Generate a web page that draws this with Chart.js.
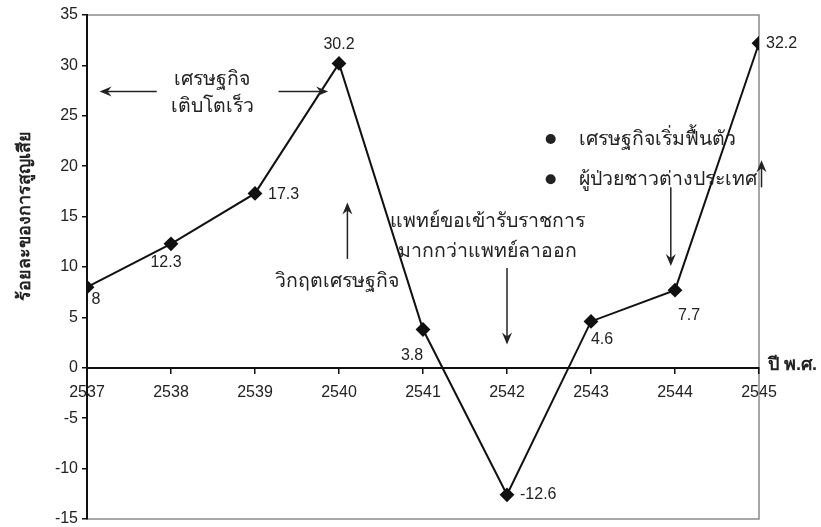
<!DOCTYPE html>
<html>
<head>
<meta charset="utf-8">
<script src="https://cdn.jsdelivr.net/npm/chart.js@4.4.0/dist/chart.umd.min.js"></script>
<style>
  html, body { margin: 0; padding: 0; background: #fff; }
  #wrap { width: 821px; height: 527px; }
</style>
</head>
<body>
<div id="wrap"><canvas id="lossChart"></canvas></div>
<script>
// data
var years = [2537, 2538, 2539, 2540, 2541, 2542, 2543, 2544, 2545];
var lossPercent = [8, 12.3, 17.3, 30.2, 3.8, -12.6, 4.6, 7.7, 32.2];
var yMin = -15, yMax = 35, yStep = 5;
var yTitle = "ร้อยละของการสูญเสีย";
var xTitle = "ปี พ.ศ.";

// where each value label sits relative to its point (px)
var labelOffsets = [[9, 12], [-5, 19], [30, 1], [0, -19], [-11, 26], [30, 0], [11, 18], [14, 25], [24, 0]];

// notes and arrows, placed in data units
var notes = [
  { text: "เศรษฐกิจ", x: 2538.49, y: 28.6 },
  { text: "เติบโตเร็ว", x: 2538.49, y: 25.9 },
  { text: "วิกฤตเศรษฐกิจ", x: 2539.98, y: 8.5 },
  { text: "แพทย์ขอเข้ารับราชการ", x: 2541.77, y: 14.5 },
  { text: "มากกว่าแพทย์ลาออก", x: 2541.77, y: 11.5 },
  { text: "เศรษฐกิจเริ่มฟื้นตัว", x: 2542.86, y: 22.6, left: true },
  { text: "ผู้ป่วยชาวต่างประเทศ", x: 2542.86, y: 18.7, left: true }
];
var bullets = [[2542.52, 22.7], [2542.52, 18.7]];
var arrows = [
  [2537.83, 27.4, 2537.15, 27.4],
  [2539.28, 27.4, 2539.87, 27.4],
  [2540.10, 10.8, 2540.10, 16.4],
  [2542.0, 9.9, 2542.0, 2.3],
  [2543.95, 17.9, 2543.95, 10.1],
  [2545.03, 17.9, 2545.03, 20.6]
];

var textFont = '"Liberation Sans", Arial, "Noto Sans", sans-serif';

function drawArrow(ctx, x1, y1, x2, y2) {
  var ang = Math.atan2(y2 - y1, x2 - x1);
  var len = 12, half = 5;
  ctx.beginPath();
  ctx.moveTo(x1, y1);
  ctx.lineTo(x2 - Math.cos(ang) * 6, y2 - Math.sin(ang) * 6);
  ctx.stroke();
  ctx.save();
  ctx.translate(x2, y2);
  ctx.rotate(ang);
  ctx.beginPath();
  ctx.moveTo(0, 0);
  ctx.lineTo(-len, -half);
  ctx.lineTo(-len + 4, 0);
  ctx.lineTo(-len, half);
  ctx.closePath();
  ctx.fill();
  ctx.restore();
}

var framePlugin = {
  id: "frame",
  beforeDraw: function (chart) {
    var a = chart.chartArea, ctx = chart.ctx;
    ctx.save();
    ctx.strokeStyle = "#8a8a8a";
    ctx.lineWidth = 1.5;
    ctx.strokeRect(a.left, a.top, a.right - a.left, a.bottom - a.top);
    ctx.restore();
  }
};

var notesPlugin = {
  id: "notes",
  afterDatasetsDraw: function (chart) {
    var ctx = chart.ctx, xs = chart.scales.x, ys = chart.scales.y;
    ctx.save();

    // value labels next to the points
    var meta = chart.getDatasetMeta(0);
    ctx.fillStyle = "#222";
    ctx.font = "16px " + textFont;
    ctx.textAlign = "center";
    ctx.textBaseline = "middle";
    meta.data.forEach(function (pt, i) {
      var off = labelOffsets[i];
      var txt = String(lossPercent[i]);
      var w = ctx.measureText(txt).width;
      var cx = pt.x + off[0];
      if (off[1] === 0 || off[1] === 1) cx = pt.x + off[0] - 17 + w / 2;
      ctx.fillText(txt, cx, pt.y + off[1]);
    });

    // notes
    ctx.font = "19.5px " + textFont;
    notes.forEach(function (n) {
      ctx.textAlign = n.left ? "left" : "center";
      ctx.fillText(n.text, xs.getPixelForValue(n.x), ys.getPixelForValue(n.y));
    });

    bullets.forEach(function (b) {
      ctx.beginPath();
      ctx.arc(xs.getPixelForValue(b[0]), ys.getPixelForValue(b[1]), 5, 0, Math.PI * 2);
      ctx.fill();
    });

    ctx.strokeStyle = "#222";
    ctx.lineWidth = 1.5;
    arrows.forEach(function (a) {
      drawArrow(ctx, xs.getPixelForValue(a[0]), ys.getPixelForValue(a[1]),
        xs.getPixelForValue(a[2]), ys.getPixelForValue(a[3]));
    });

    // axis titles
    ctx.font = "bold 18px " + textFont;
    ctx.textAlign = "left";
    ctx.fillText(xTitle, chart.chartArea.right + 9, ys.getPixelForValue(0) - 3);
    ctx.translate(25, 216);
    ctx.rotate(-Math.PI / 2);
    ctx.textAlign = "center";
    ctx.fillText(yTitle, 0, 0);
    ctx.restore();
  }
};

function noOverflow(scale) {
  scale.paddingTop = 0;
  scale.paddingBottom = 0;
  scale.paddingLeft = 0;
  scale.paddingRight = 0;
}

var ctx = document.getElementById("lossChart").getContext("2d");
var chart = new Chart(ctx, {
  type: "line",
  data: {
    datasets: [{
      data: years.map(function (yr, i) { return { x: yr, y: lossPercent[i] }; }),
      borderColor: "#111",
      borderWidth: 2,
      backgroundColor: "#111",
      pointStyle: "rectRot",
      pointRadius: 6,
      pointHoverRadius: 6,
      tension: 0
    }]
  },
  options: {
    responsive: true,
    maintainAspectRatio: false,
    animation: false,
    layout: { padding: { top: 15, right: 62, bottom: 4, left: 0 } },
    plugins: { legend: { display: false }, tooltip: { enabled: false } },
    scales: {
      x: {
        type: "linear",
        position: { y: 0 },
        min: years[0],
        max: years[years.length - 1],
        afterFit: noOverflow,
        grid: { drawOnChartArea: false, color: "#111", tickLength: 5, lineWidth: 1.5 },
        border: { color: "#111", width: 2 },
        ticks: {
          stepSize: 1,
          padding: 10,
          color: "#222",
          font: { size: 16, family: textFont },
          maxRotation: 0,
          callback: function (v) { return String(v); }
        }
      },
      y: {
        min: yMin,
        max: yMax,
        afterFit: function (scale) { scale.width = 87; noOverflow(scale); },
        grid: { drawOnChartArea: false, color: "#111", tickLength: 5, lineWidth: 1.5 },
        border: { color: "#111", width: 2 },
        ticks: {
          stepSize: yStep,
          padding: 4,
          color: "#222",
          font: { size: 16, family: textFont }
        }
      }
    }
  },
  plugins: [framePlugin, notesPlugin]
});
</script>
</body>
</html>
